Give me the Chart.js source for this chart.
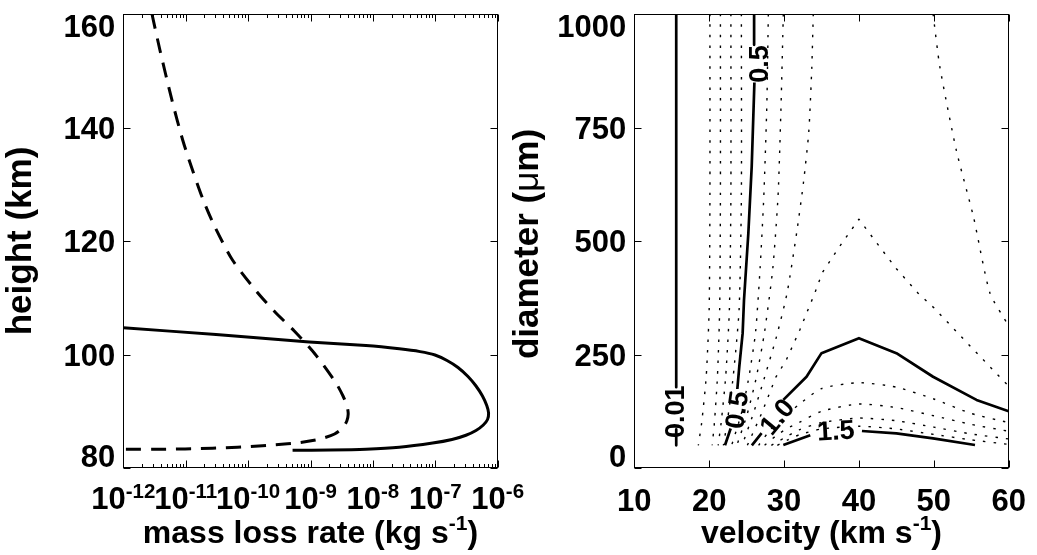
<!DOCTYPE html>
<html><head><meta charset="utf-8">
<script src="https://cdn.jsdelivr.net/npm/chart.js@4/dist/chart.umd.min.js"></script>
<style>
html,body{margin:0;padding:0;background:#fff;overflow:hidden}
#wrap{position:relative;width:1037px;height:555px;background:#fff}
canvas{position:absolute;top:0}
</style></head><body>
<div id="wrap">
<canvas id="c1" width="560" height="555" style="left:0px;width:560px;height:555px"></canvas>
<canvas id="c2" width="537" height="555" style="left:500px;width:537px;height:555px"></canvas>
</div>
<script>
// ---------------- Left panel data ----------------
const massTicks = [1e-12, 1e-11, 1e-10, 1e-9, 1e-8, 1e-7, 1e-6];
const massTickExp = ['-12', '-11', '-10', '-9', '-8', '-7', '-6'];
const heightTicks = [80, 100, 120, 140, 160];
// solid curve
const solidMass = [1e-12, 3.06e-11, 9.57e-10, 7.74e-9, 2.65e-8, 5.69e-8, 9.89e-8, 1.54e-7, 2.31e-7, 3.34e-7, 4.49e-7, 5.70e-7, 6.68e-7, 7.14e-7, 6.87e-7, 5.88e-7, 4.49e-7, 3.10e-7, 1.85e-7, 9.06e-8, 2.65e-8, 7.74e-9, 2.06e-9, 5.16e-10];
const solidHeight = [104.72, 103.51, 102.22, 101.57, 101.0, 100.51, 99.91, 98.94, 97.71, 96.12, 94.45, 92.69, 91.01, 89.69, 88.55, 87.58, 86.61, 85.77, 85.02, 84.39, 83.65, 83.31, 83.17, 83.12];
// dashed curve
const dashedMass = [2.88e-12, 3.86e-12, 6.01e-12, 8.95e-12, 1.285e-11, 1.91e-11, 2.89e-11, 5.62e-11, 1.39e-10, 2.70e-10, 5.50e-10, 1.18e-9, 2.56e-9, 3.32e-9, 3.85e-9, 4.02e-9, 3.82e-9, 3.32e-9, 2.43e-9, 1.42e-9, 6.79e-10, 2.70e-10, 1.07e-10, 4.26e-11, 1.70e-11, 5.60e-12, 1e-12];
const dashedHeight = [160, 153.66, 144.85, 137.80, 132.51, 127.22, 122.64, 116.65, 111.01, 107.49, 104.14, 100.09, 94.98, 92.69, 90.93, 89.52, 88.29, 87.14, 85.99, 85.11, 84.49, 84.09, 83.77, 83.56, 83.42, 83.33, 83.28];

// ---------------- Right panel data ----------------
const velocityTicks = [10, 20, 30, 40, 50, 60];
const diameterTicks = [0, 250, 500, 750, 1000];
// labelled (solid) contours; null marks the gap left for an inline label
const c001V = [15.6, 15.6, null, 15.6, 15.6];
const c001D = [1000, 178, null, 85, 50];
const c05V = [26.0, 26.0, null, 26.04, 25.68, 25.23, 24.65, 24.47, 24.02, 23.76, null, 22.87, 22.11];
const c05D = [1000, 932, null, 849, 664, 517, 370, 297, 223, 174, null, 87, 50];
const c10V = [25.7, 27.0, null, 29.9, 33.0, 35.0, 40.0, 45.0, 49.9, 55.7, 60];
const c10D = [50, 77, null, 150, 201, 253, 286, 253, 201, 150, 125];
const c15V = [29.9, 33.5, null, 40.4, 45.0, 49.9, 55.5];
const c15D = [50.7, 72.2, null, 81.5, 76.4, 65.4, 50.7];
// unlabelled (dotted) contours
const d01V = [20.1, 20.1, 20.0, 19.6, 19.0, 18.55];
const d01D = [1000, 600, 350, 200, 100, 50];
const d02V = [21.5, 21.5, 21.4, 21.1, 20.7, 20.4];
const d02D = [1000, 600, 350, 200, 100, 50];
const d03V = [22.9, 22.9, 22.7, 22.2, 21.6, 21.2];
const d03D = [1000, 600, 350, 200, 100, 50];
const d04V = [24.3, 24.3, 24.0, 23.2, 22.4, 21.9];
const d04D = [1000, 600, 350, 200, 100, 50];
const d06V = [27.9, 27.7, 27.3, 26.8, 26.2, 25.3, 24.3, 23.0];
const d06D = [1000, 800, 600, 440, 300, 200, 120, 50];
const d07V = [29.9, 29.6, 29.2, 28.5, 27.4, 26.3, 25.1, 23.7];
const d07D = [1000, 800, 600, 440, 300, 200, 120, 50];
const d08V = [33.9, 33.7, 33.3, 32.6, 31.7, 30.4, 29.0, 27.4, 25.9, 24.4];
const d08D = [1000, 880, 740, 630, 520, 385, 290, 200, 120, 50];
const d08bV = [49.9, 50.8, 53.0, 55.3, 57.5, 60];
const d08bD = [1000, 884, 700, 553, 385, 313];
const d09V = [25.1, 27.0, 28.9, 30.3, 32.1, 34.1, 35.1, 37.5, 40, 42.5, 45, 47.9, 50, 55, 60];
const d09D = [50, 120, 200, 238, 304, 385, 430, 490, 548, 493, 439, 385, 353, 266, 180];
const d11V = [26.6, 28.2, 30.0, 32.0, 35, 40, 45, 50, 55, 60];
const d11D = [50, 85, 112, 140, 175, 188, 178, 152, 120, 100];
const d12V = [27.4, 29.0, 30.5, 32.0, 35, 40, 45, 50, 55, 60];
const d12D = [50, 72, 88, 100, 125, 141, 133, 115, 96, 81];
const d13V = [28.3, 30.0, 32.0, 35, 40, 45, 50, 55, 60];
const d13D = [50, 66, 84, 100, 110, 104, 90, 75, 64];
const d14V = [29.1, 30.5, 32.0, 35, 40, 45, 50, 55, 60];
const d14D = [50, 62, 73, 86, 92, 86, 74, 62, 52];
// inline contour labels
const labelText = ['0.01', '0.5', '0.5', '1.0', '1.5'];
const labelV = [15.4, 26.6, 23.6, 29.0, 36.9];
const labelD = [124, 890, 128, 114, 84];
const labelAngle = [-90, -90, -82, -50, -3];

// ---------------- helpers ----------------
const FONT = '"Liberation Sans", Arial, Helvetica, sans-serif';
const TICK = 'bold 31px ' + FONT;
const EXP = 'bold 20.5px ' + FONT;
const TITLE = 'bold 32px ' + FONT;
const YTITLE = 'bold 35px ' + FONT;
const TSUP = 'bold 21px ' + FONT;
const CLAB = 'bold 27px ' + FONT;

const pts = (xs, ys) => xs.map((x, i) => (x === null ? {x: null, y: null} : {x: x, y: ys[i]}));
function line(data, width, dash, tension) {
  return {data: data, showLine: true, borderColor: '#000', backgroundColor: '#000',
    borderWidth: width, borderDash: dash || [], pointRadius: 0, pointHoverRadius: 0,
    fill: false, tension: tension || 0, spanGaps: false, borderCapStyle: 'butt', borderJoinStyle: 'round'};
}
function drawRich(ctx, parts, x, y, align) {
  let w = 0;
  for (const p of parts) { ctx.font = p.font; w += ctx.measureText(p.t).width; }
  let cx = align === 'center' ? x - w / 2 : (align === 'right' ? x - w : x);
  ctx.textAlign = 'left'; ctx.textBaseline = 'alphabetic';
  for (const p of parts) { ctx.font = p.font; ctx.fillText(p.t, cx, y - (p.rise || 0)); cx += ctx.measureText(p.t).width; }
}
function frameAndTicks(chart, xTicks, xMinor, yTicks) {
  const ctx = chart.ctx, a = chart.chartArea, xs = chart.scales.x, ys = chart.scales.y;
  const L = Math.round(a.left) + 0.5, R = Math.round(a.right) - 0.5, T = Math.round(a.top) + 0.5, B = Math.round(a.bottom) - 0.5;
  ctx.save();
  ctx.strokeStyle = '#000'; ctx.lineWidth = 1;
  ctx.strokeRect(L, T, R - L, B - T);
  ctx.beginPath();
  const tick = (v, len) => { const x = Math.round(xs.getPixelForValue(v)) + 0.5; ctx.moveTo(x, B); ctx.lineTo(x, B - len); ctx.moveTo(x, T); ctx.lineTo(x, T + len); };
  xTicks.forEach(v => tick(v, 7));
  xMinor.forEach(v => tick(v, 3.5));
  yTicks.forEach(v => { const y = Math.round(ys.getPixelForValue(v)) + 0.5; ctx.moveTo(L, y); ctx.lineTo(L + 7, y); ctx.moveTo(R, y); ctx.lineTo(R - 7, y); });
  ctx.stroke();
  // y tick labels (kept inside the axis extent like the original)
  ctx.fillStyle = '#000'; ctx.font = TICK; ctx.textAlign = 'right'; ctx.textBaseline = 'alphabetic';
  const capH = 22;
  yTicks.forEach(v => {
    let base = ys.getPixelForValue(v) + capH / 2;
    base = Math.max(a.top + capH + 1, Math.min(a.bottom - 1.5, base));
    ctx.fillText(String(v), a.left - 8, base);
  });
  ctx.restore();
}

// ---------------- left chart ----------------
const minorMass = [];
for (let e = -12; e < -6; e++) for (let k = 2; k <= 9; k++) minorMass.push(k * Math.pow(10, e));

const leftDecor = {
  id: 'leftDecor',
  afterDraw(chart) {
    const ctx = chart.ctx, a = chart.chartArea, xs = chart.scales.x;
    frameAndTicks(chart, massTicks, minorMass, heightTicks);
    ctx.save(); ctx.fillStyle = '#000';
    massTicks.forEach((v, i) => drawRich(ctx, [{t: '10', font: TICK}, {t: massTickExp[i], font: EXP, rise: 11}], xs.getPixelForValue(v), 509, 'center'));
    drawRich(ctx, [{t: 'mass loss rate (kg s', font: TITLE}, {t: '-1', font: TSUP, rise: 13}, {t: ')', font: TITLE}], (a.left + a.right) / 2, 543, 'center');
    ctx.translate(31, (a.top + a.bottom) / 2); ctx.rotate(-Math.PI / 2);
    drawRich(ctx, [{t: 'height (km)', font: YTITLE}], 0, 0, 'center');
    ctx.restore();
  }
};

new Chart(document.getElementById('c1'), {
  type: 'scatter',
  data: {datasets: [
    line(pts(solidMass, solidHeight), 3, [], 0.25),
    line(pts(dashedMass, dashedHeight), 3, [15, 10], 0.25)
  ]},
  options: {
    responsive: false, animation: false, events: [],
    layout: {padding: {top: 14, right: 62.3, left: 0, bottom: 0}},
    plugins: {legend: {display: false}, tooltip: {enabled: false}, title: {display: false}},
    scales: {
      x: {type: 'logarithmic', min: 1e-12, max: 1e-6, grid: {display: false}, border: {display: false}, ticks: {display: false}, afterFit(s) { s.height = 87; }},
      y: {type: 'linear', min: 80, max: 160, grid: {display: false}, border: {display: false}, ticks: {display: false, stepSize: 20}, afterFit(s) { s.width = 123.3; }}
    }
  },
  plugins: [leftDecor]
});

// ---------------- right chart ----------------
const rightDecor = {
  id: 'rightDecor',
  afterDraw(chart) {
    const ctx = chart.ctx, a = chart.chartArea, xs = chart.scales.x, ys = chart.scales.y;
    frameAndTicks(chart, velocityTicks, [], diameterTicks);
    ctx.save(); ctx.fillStyle = '#000';
    ctx.font = TICK; ctx.textAlign = 'center'; ctx.textBaseline = 'alphabetic';
    velocityTicks.forEach(v => ctx.fillText(String(v), xs.getPixelForValue(v), 511));
    drawRich(ctx, [{t: 'velocity (km s', font: TITLE}, {t: '-1', font: TSUP, rise: 13}, {t: ')', font: TITLE}], (a.left + a.right) / 2, 543, 'center');
    // contour labels
    ctx.font = CLAB; ctx.textAlign = 'center'; ctx.textBaseline = 'alphabetic';
    labelText.forEach((t, i) => {
      ctx.save();
      ctx.translate(xs.getPixelForValue(labelV[i]), ys.getPixelForValue(labelD[i]));
      ctx.rotate(labelAngle[i] * Math.PI / 180);
      ctx.fillText(t, 0, 9.6);
      ctx.restore();
    });
    ctx.translate(38, (a.top + a.bottom) / 2 + 3); ctx.rotate(-Math.PI / 2);
    drawRich(ctx, [{t: 'diameter (', font: YTITLE}, {t: 'μ', font: 'normal 35px ' + FONT}, {t: 'm)', font: YTITLE}], 0, 0, 'center');
    ctx.restore();
  }
};

const SOLID_W = 2.7, DOT_W = 1.4, DOT = [2.5, 8];
new Chart(document.getElementById('c2'), {
  type: 'scatter',
  data: {datasets: [
    line(pts(c001V, c001D), SOLID_W),
    line(pts(c05V, c05D), SOLID_W),
    line(pts(c10V, c10D), SOLID_W),
    line(pts(c15V, c15D), SOLID_W),
    line(pts(d01V, d01D), DOT_W, DOT, 0.2),
    line(pts(d02V, d02D), DOT_W, DOT, 0.2),
    line(pts(d03V, d03D), DOT_W, DOT, 0.2),
    line(pts(d04V, d04D), DOT_W, DOT, 0.2),
    line(pts(d06V, d06D), DOT_W, DOT, 0.2),
    line(pts(d07V, d07D), DOT_W, DOT, 0.2),
    line(pts(d08V, d08D), DOT_W, DOT, 0.2),
    line(pts(d08bV, d08bD), DOT_W, DOT, 0.2),
    line(pts(d09V, d09D), DOT_W, DOT, 0),
    line(pts(d11V, d11D), DOT_W, DOT, 0.2),
    line(pts(d12V, d12D), DOT_W, DOT, 0.2),
    line(pts(d13V, d13D), DOT_W, DOT, 0.2),
    line(pts(d14V, d14D), DOT_W, DOT, 0.2)
  ]},
  options: {
    responsive: false, animation: false, events: [],
    layout: {padding: {top: 14, right: 28.3, left: 0, bottom: 0}},
    plugins: {legend: {display: false}, tooltip: {enabled: false}, title: {display: false}},
    scales: {
      x: {type: 'linear', min: 10, max: 60, grid: {display: false}, border: {display: false}, ticks: {display: false}, afterFit(s) { s.height = 87; }},
      y: {type: 'linear', min: 0, max: 1000, grid: {display: false}, border: {display: false}, ticks: {display: false}, afterFit(s) { s.width = 134.3; }}
    }
  },
  plugins: [rightDecor]
});
</script>
</body></html>
